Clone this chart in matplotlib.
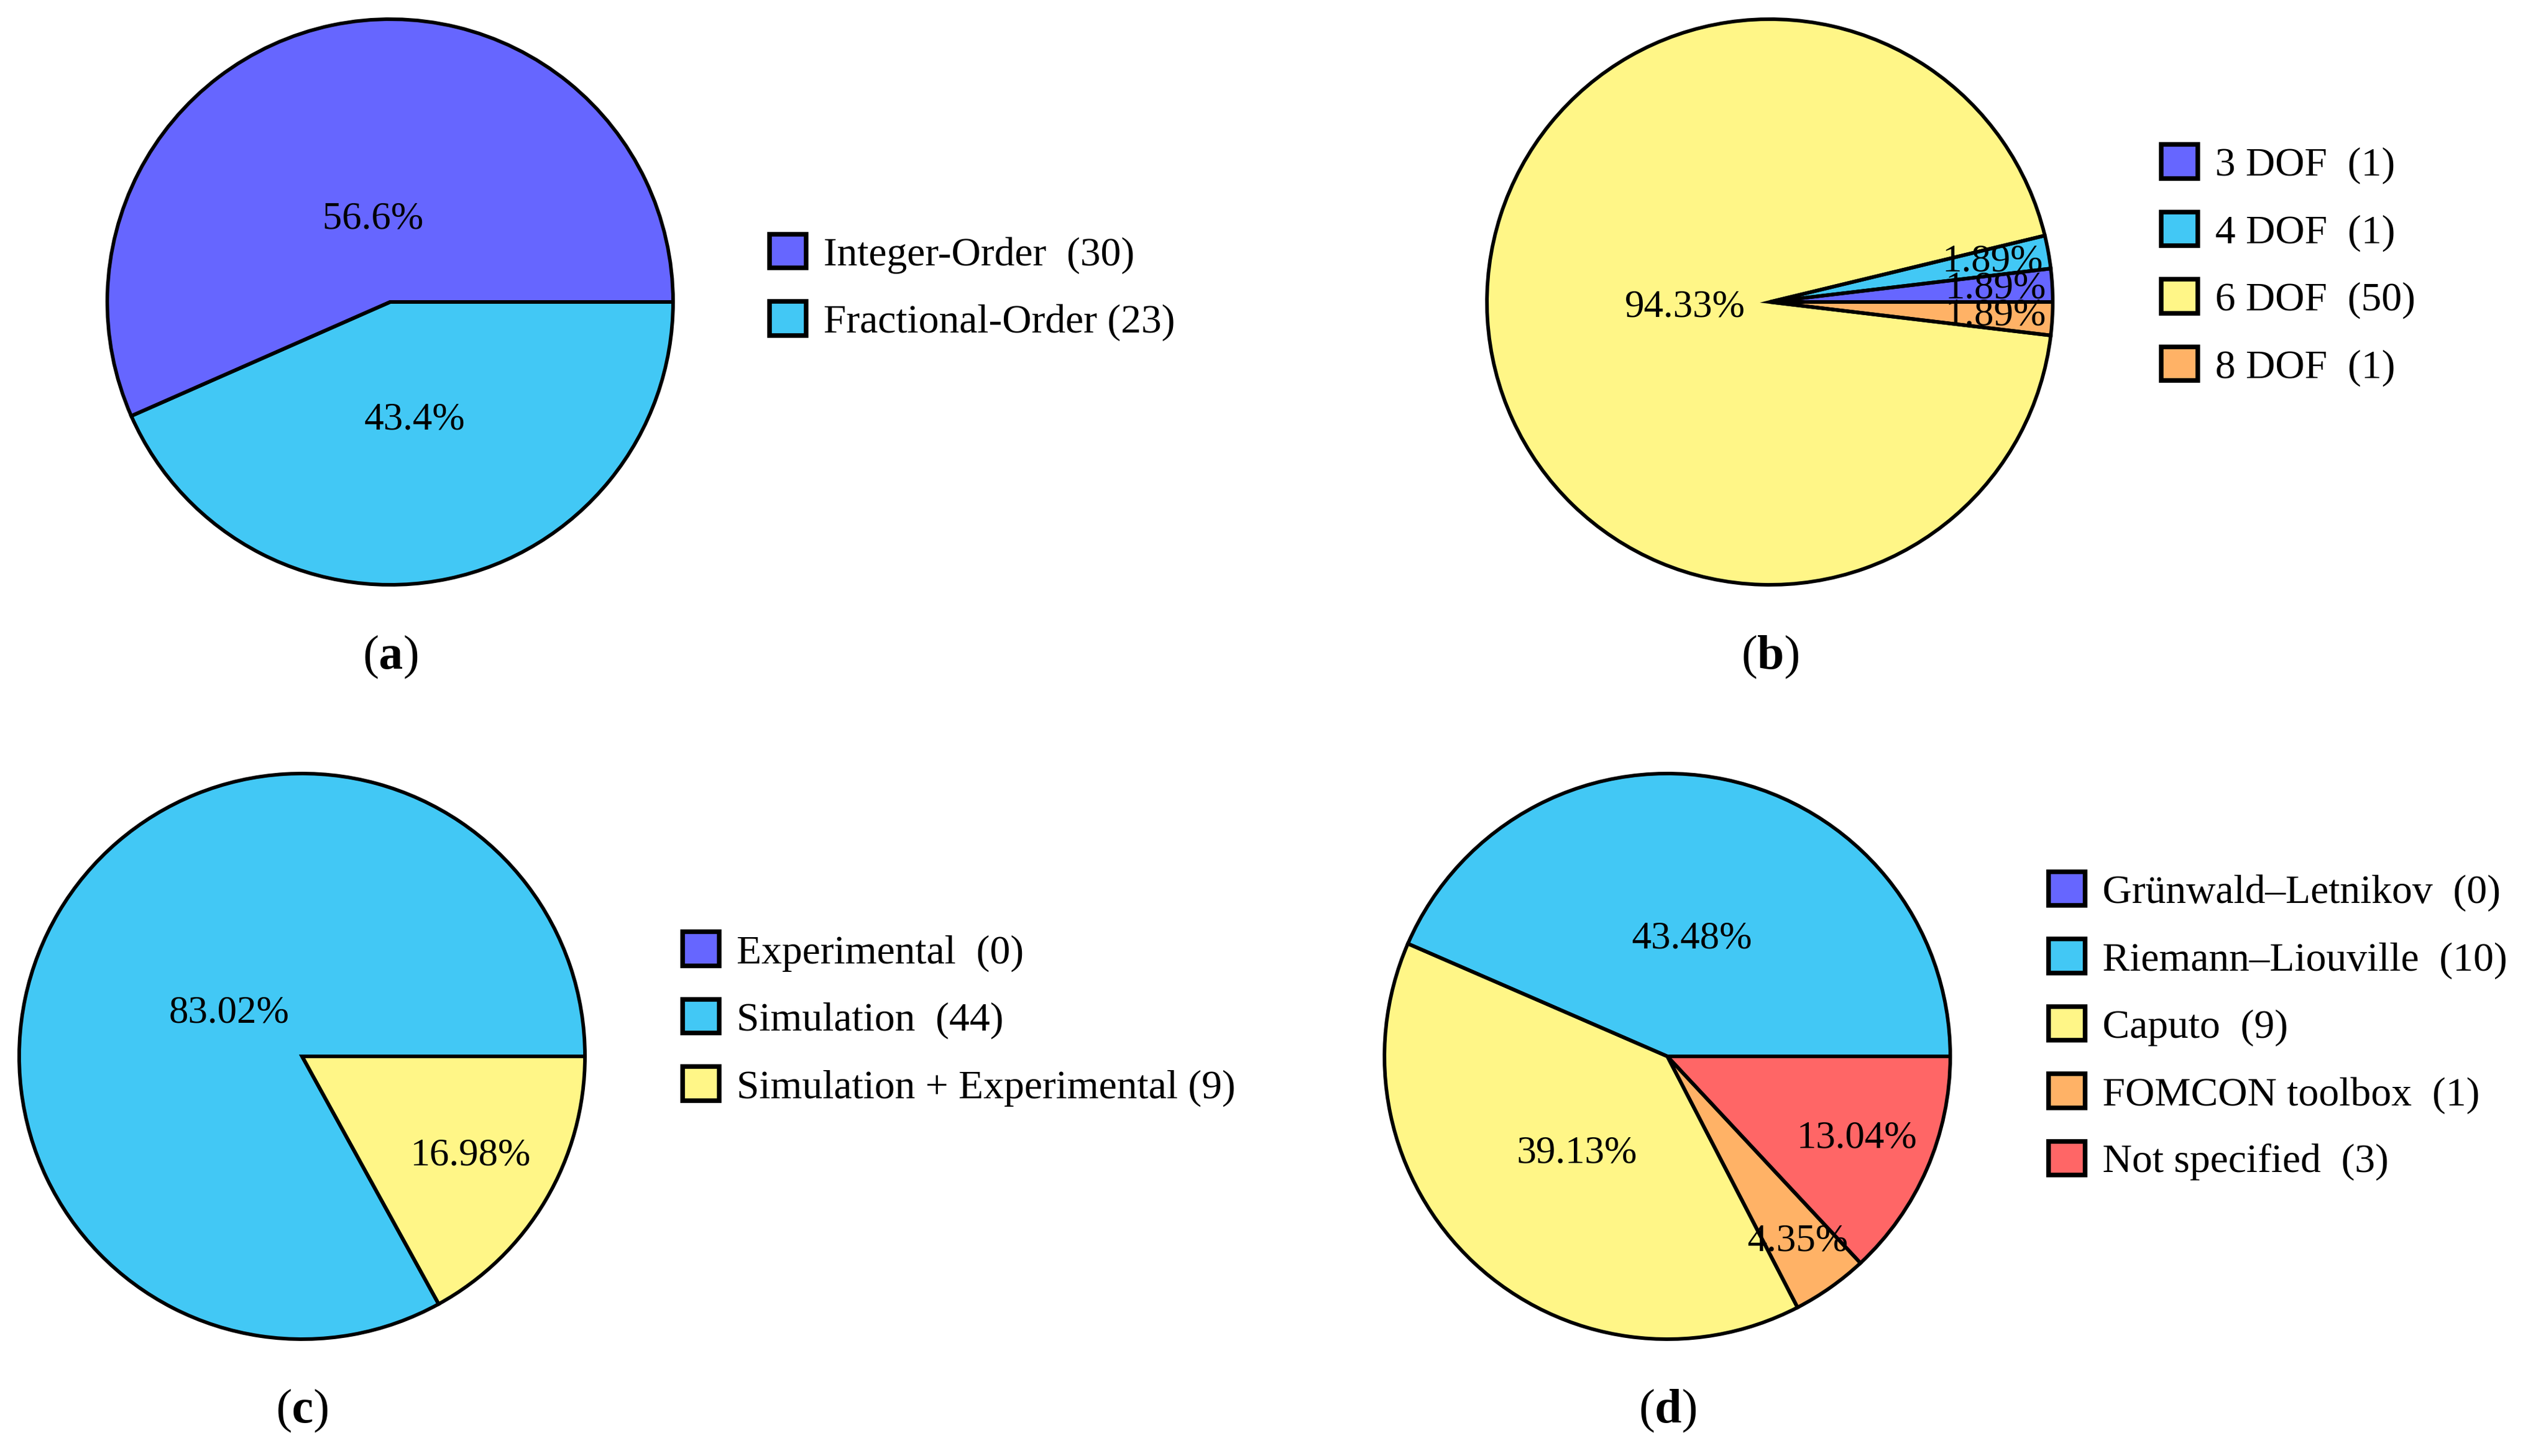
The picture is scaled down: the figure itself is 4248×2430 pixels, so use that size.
import numpy as np
import matplotlib
matplotlib.use('Agg')
import matplotlib.pyplot as plt
from matplotlib.patches import Patch

plt.rcParams['font.family'] = ['Liberation Serif', 'DejaVu Serif']
plt.rcParams['mathtext.fontset'] = 'custom'
plt.rcParams['mathtext.rm'] = 'Liberation Serif'
plt.rcParams['mathtext.bf'] = 'Liberation Serif:bold'

# ---------------- data ----------------
order_labels = ['Integer-Order  (30)', 'Fractional-Order (23)']
order_counts = [30, 23]

dof_labels = ['3 DOF  (1)', '4 DOF  (1)', '6 DOF  (50)', '8 DOF  (1)']
dof_counts = [1, 1, 50, 1]

valid_labels = ['Experimental  (0)', 'Simulation  (44)', 'Simulation + Experimental (9)']
valid_counts = [0, 44, 9]

defn_labels = ['Grünwald–Letnikov  (0)', 'Riemann–Liouville  (10)', 'Caputo  (9)',
               'FOMCON toolbox  (1)', 'Not specified  (3)']
defn_counts = [0, 10, 9, 1, 3]

panel_letters = ['a', 'b', 'c', 'd']
pct_decimals = [1, 2, 2, 2]

palette = ['#6666FF', '#42C8F5', '#FFF687', '#FFB266', '#FF6666']

# ---------------- layout (pixels) ----------------
W, H, DPI = 4248, 2430, 100
R = 472
FS_LEG = 49
FS_PCT = 47
FS_LET = 58

fig = plt.figure(figsize=(W / DPI, H / DPI), dpi=DPI)

panels = [
    dict(counts=order_counts, labels=order_labels, center=(651, 504),
         legend=(1284, 480), letter=(651, 1097)),
    dict(counts=dof_counts, labels=dof_labels, center=(2953, 504),
         legend=(3606, 443), letter=(2953, 1097)),
    dict(counts=valid_counts, labels=valid_labels, center=(504, 1763),
         legend=(1139, 1701), letter=(504, 2355)),
    dict(counts=defn_counts, labels=defn_labels, center=(2782, 1763),
         legend=(3418, 1713), letter=(2782, 2355)),
]


def pct_strings(counts, dec):
    counts = np.asarray(counts, dtype=float)
    vals = np.round(100 * counts / counts.sum(), dec)
    vals[np.argmax(vals)] += round(100 - vals.sum(), dec)
    return ['' if c <= 0 else f'{v:.{dec}f}%' for c, v in zip(counts, vals)]


L = 1.04
for p, letter, dec in zip(panels, panel_letters, pct_decimals):
    cx, cy = p['center']
    half = R * L
    ax = fig.add_axes([(cx - half) / W, (H - cy - half) / H, 2 * half / W, 2 * half / H])
    cols = palette[:len(p['counts'])]

    it = iter(pct_strings(p['counts'], dec))
    wedges, _, autotexts = ax.pie(p['counts'], colors=cols, startangle=0,
                                  counterclock=True, autopct=lambda v: next(it),
                                  wedgeprops=dict(linewidth=0),
                                  textprops=dict(fontsize=FS_PCT, color='black'))
    # label placement: larger slices have labels nearer the centre
    for w, t in zip(wedges, autotexts):
        ang = np.deg2rad((w.theta1 + w.theta2) / 2)
        frac = (w.theta2 - w.theta1) / 360.0
        d = float(np.clip(0.86 - frac, 0.30, 0.80))
        t.set_position((d * np.cos(ang), d * np.sin(ang)))
        t.set_zorder(3)
    # black outlines drawn over the labels
    ax.pie(p['counts'], startangle=0, counterclock=True,
           wedgeprops=dict(facecolor='none', edgecolor='black', linewidth=4.3,
                           zorder=4))
    ax.set_xlim(-L, L)
    ax.set_ylim(-L, L)
    ax.set_aspect('equal')
    ax.axis('off')

    handles = [Patch(facecolor=c, edgecolor='black', linewidth=5.5) for c in cols]
    lx, ly = p['legend']
    fig.legend(handles, p['labels'], loc='center left',
               bbox_to_anchor=(lx / W, 1 - ly / H), frameon=False,
               borderpad=0, borderaxespad=0, handlelength=0.9, handleheight=0.9,
               handletextpad=0.42, labelspacing=0.68, fontsize=FS_LEG)

    tx, ty = p['letter']
    fig.text(tx / W, 1 - ty / H, r'($\mathbf{' + letter + r'}$)', ha='center',
             va='center', fontsize=FS_LET)

fig.savefig('out.png', dpi=DPI, facecolor='white')
